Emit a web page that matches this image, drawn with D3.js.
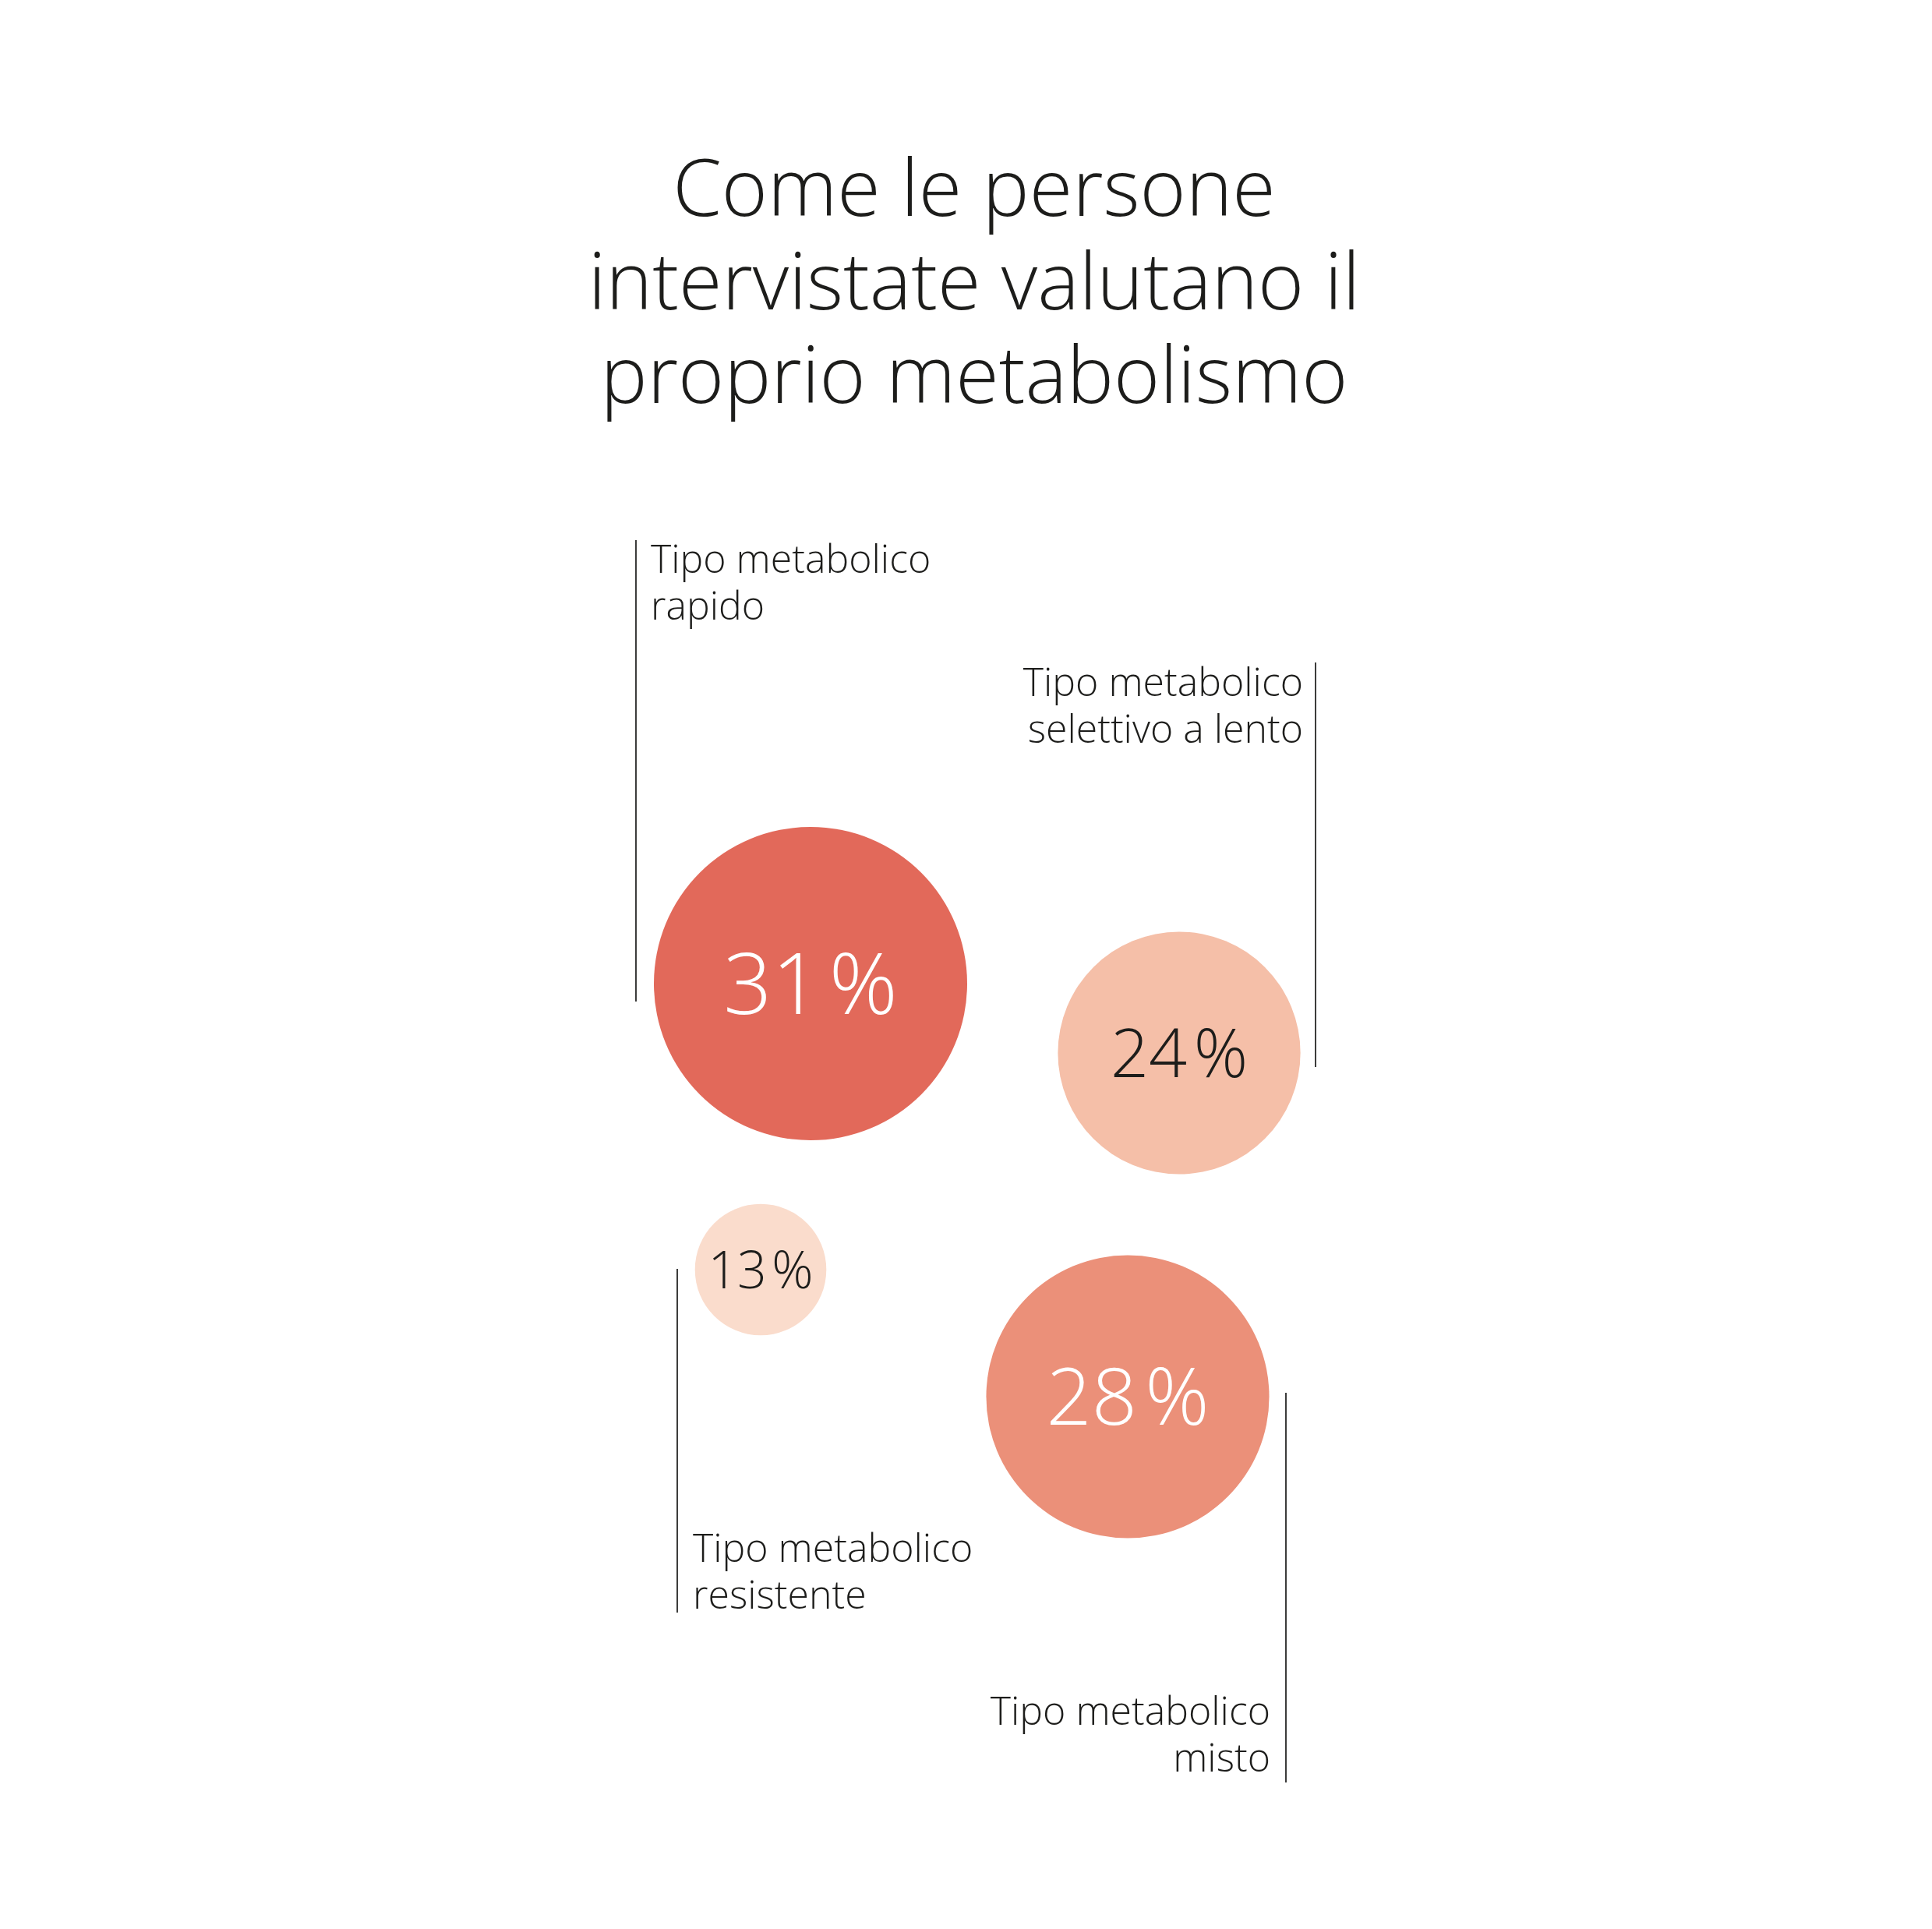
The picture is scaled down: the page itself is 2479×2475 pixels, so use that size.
<!DOCTYPE html>
<html>
<head>
<meta charset="utf-8">
<script src="https://cdn.jsdelivr.net/npm/d3@7"></script>
<style>
  body { margin: 0; background: #fff; }
  svg { display: block; }
  text { font-family: "Open Sans", sans-serif; }
</style>
</head>
<body>
<div id="chart"></div>
<script>
// data
var titleLines = ["Come le persone", "intervistate valutano il", "proprio metabolismo"];
var categories = ["rapido", "selettivo a lento", "resistente", "misto"];
var labelLines = [
    ["Tipo metabolico", "rapido"],
    ["Tipo metabolico", "selettivo a lento"],
    ["Tipo metabolico", "resistente"],
    ["Tipo metabolico", "misto"]
];
var values = [31, 24, 13, 28];

// styles
var fills = ["#e2695a", "#f5bfa8", "#fadccc", "#eb9079"];
var textFills = ["#ffffff", "#1d1d1b", "#1d1d1b", "#ffffff"];
var INK = "#1d1d1b";

var W = 2479, H = 2475;

// layout: circle centres and label anchors, per category
var layout = [
    { cx: 1040, cy: 1262, lineX: 816, lineTop: 693, lineBot: 1285, textX: 835, textY: 735, anchor: "start" },
    { cx: 1513, cy: 1351, lineX: 1688, lineTop: 850, lineBot: 1369, textX: 1672, textY: 893, anchor: "end" },
    { cx: 976, cy: 1629, lineX: 869, lineTop: 1628, lineBot: 2069, textX: 889, textY: 2004, anchor: "start" },
    { cx: 1447, cy: 1792, lineX: 1650, lineTop: 1787, lineBot: 2287, textX: 1630, textY: 2213, anchor: "end" }
];

var r = d3.scaleLinear().domain([0, 31]).range([0, 201]);
var fontSize = d3.scaleLinear().domain([13, 24, 28, 31]).range([66, 86, 102, 109]);

var svg = d3.select("#chart").append("svg")
    .attr("width", W)
    .attr("height", H);

svg.append("rect").attr("width", W).attr("height", H).attr("fill", "#fff");

// title
svg.append("g").selectAll("text").data(titleLines)
    .enter().append("text")
        .attr("x", 1250)
        .attr("y", function(d, i) { return 277 + i * 120; })
        .attr("text-anchor", "middle")
        .attr("font-size", 101)
        .attr("font-weight", 300)
        .attr("fill", INK)
        .text(function(d) { return d; });

var rows = values.map(function(v, i) {
    return { cat: categories[i], value: v, lines: labelLines[i], pos: layout[i], i: i };
});

// leader lines
svg.append("g").selectAll("line").data(rows)
    .enter().append("line")
        .attr("x1", function(d) { return d.pos.lineX; })
        .attr("x2", function(d) { return d.pos.lineX; })
        .attr("y1", function(d) { return d.pos.lineTop; })
        .attr("y2", function(d) { return d.pos.lineBot; })
        .attr("stroke", "#3c3c3b")
        .attr("stroke-width", 2);

// labels
var labels = svg.append("g").selectAll("text").data(rows)
    .enter().append("text")
        .attr("text-anchor", function(d) { return d.pos.anchor; })
        .attr("font-size", 50)
        .attr("font-weight", 300)
        .attr("fill", INK);
labels.selectAll("tspan").data(function(d) { return d.lines.map(function(l) { return { l: l, p: d.pos }; }); })
    .enter().append("tspan")
        .attr("x", function(d) { return d.p.textX; })
        .attr("y", function(d, j) { return d.p.textY + j * 60; })
        .text(function(d) { return d.l; });

// bubbles
var bubbles = svg.append("g").selectAll("g").data(rows)
    .enter().append("g")
        .attr("transform", function(d) { return "translate(" + d.pos.cx + "," + d.pos.cy + ")"; });

bubbles.append("circle")
    .attr("r", function(d) { return r(d.value); })
    .attr("fill", function(d) { return fills[d.i]; });

var pct = bubbles.append("text")
    .attr("text-anchor", "middle")
    .attr("font-size", function(d) { return fontSize(d.value); })
    .attr("font-weight", 300)
    .attr("y", function(d) { return fontSize(d.value) * 0.357; })
    .attr("fill", function(d) { return textFills[d.i]; });
pct.append("tspan").text(function(d) { return d.value; });
pct.append("tspan").attr("dx", "0.1em").text("%");
</script>
</body>
</html>
